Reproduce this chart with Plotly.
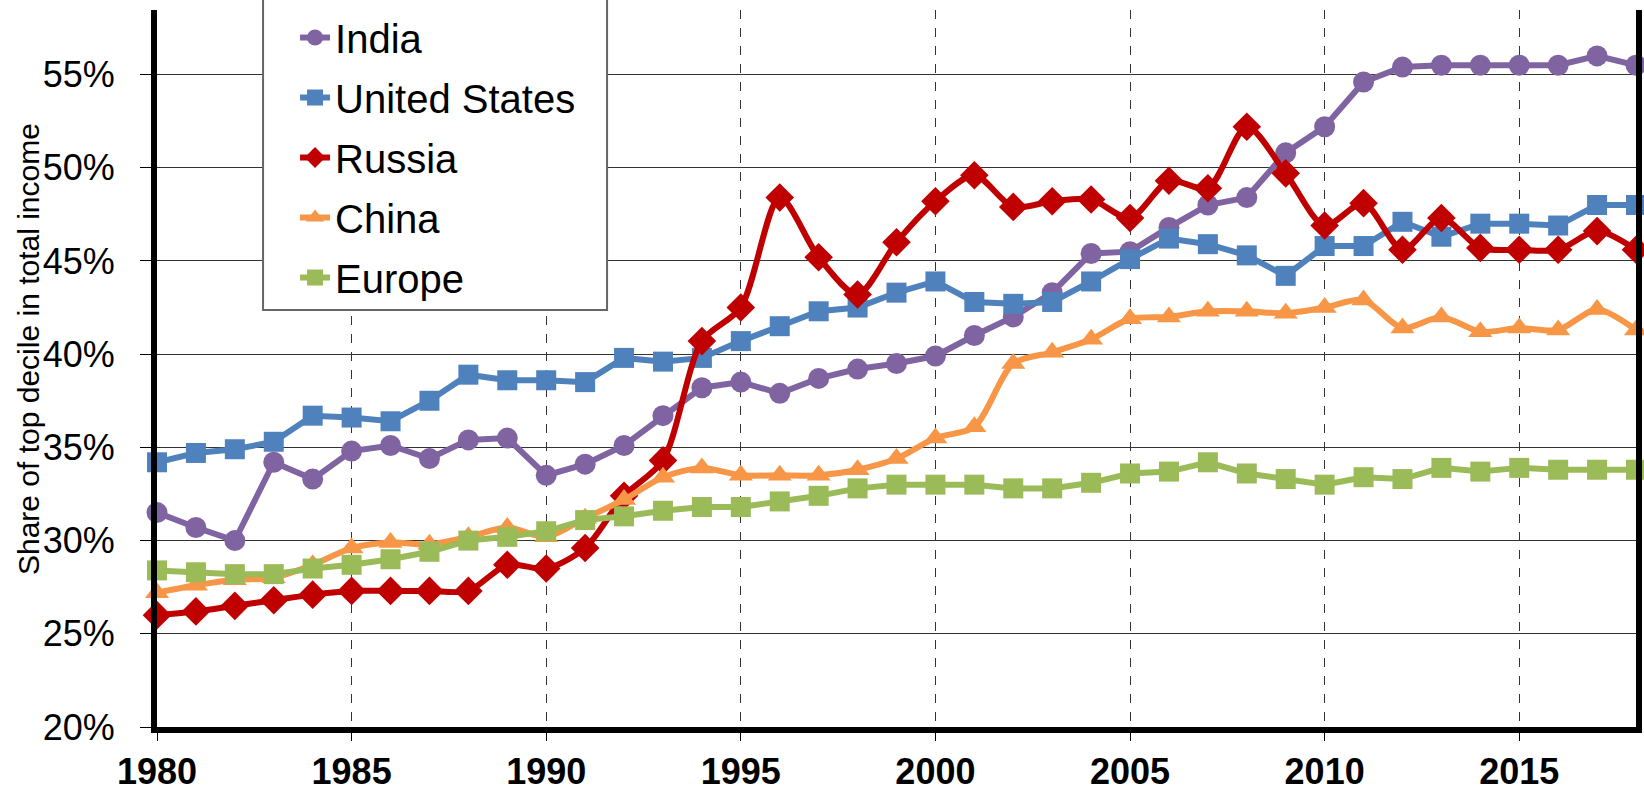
import plotly.graph_objects as go

years = list(range(1980, 2019))

india = [31.5, 30.7, 30.0, 34.2, 33.3, 34.8, 35.1, 34.4, 35.4, 35.5,
         33.5, 34.1, 35.1, 36.7, 38.2, 38.5, 37.9, 38.7, 39.2, 39.5,
         39.9, 41.0, 42.0, 43.3, 45.4, 45.5, 46.8, 48.0, 48.4, 50.8,
         52.2, 54.6, 55.4, 55.5, 55.5, 55.5, 55.5, 56.0, 55.5]
usa = [34.2, 34.7, 34.9, 35.3, 36.7, 36.6, 36.4, 37.5, 38.9, 38.6,
       38.6, 38.5, 39.8, 39.6, 39.8, 40.7, 41.5, 42.3, 42.5, 43.3,
       43.9, 42.8, 42.7, 42.8, 43.9, 45.1, 46.2, 45.9, 45.3, 44.2,
       45.8, 45.8, 47.1, 46.3, 47.0, 47.0, 46.9, 48.0, 48.0]
russia = [26.0, 26.2, 26.5, 26.8, 27.1, 27.3, 27.3, 27.3, 27.3, 28.7,
          28.5, 29.6, 32.4, 34.3, 40.7, 42.5, 48.4, 45.2, 43.2, 46.0,
          48.2, 49.6, 47.9, 48.2, 48.3, 47.3, 49.3, 48.9, 52.2, 49.7,
          46.9, 48.1, 45.6, 47.3, 45.7, 45.6, 45.6, 46.6, 45.6]
china = [27.2, 27.6, 27.9, 28.0, 28.7, 29.6, 29.9, 29.8, 30.2, 30.7,
         30.2, 31.2, 32.2, 33.4, 33.9, 33.5, 33.5, 33.5, 33.8, 34.4,
         35.5, 36.1, 39.5, 40.1, 40.8, 41.9, 42.0, 42.3, 42.3, 42.2,
         42.5, 42.9, 41.4, 42.0, 41.2, 41.4, 41.3, 42.4, 41.3]
europe = [28.4, 28.3, 28.2, 28.2, 28.5, 28.7, 29.0, 29.4, 30.0, 30.2,
          30.5, 31.1, 31.3, 31.6, 31.8, 31.8, 32.1, 32.4, 32.8, 33.0,
          33.0, 33.0, 32.8, 32.8, 33.1, 33.6, 33.7, 34.2, 33.6, 33.3,
          33.0, 33.4, 33.3, 33.9, 33.7, 33.9, 33.8, 33.8, 33.8]

x_ticks = [1980, 1985, 1990, 1995, 2000, 2005, 2010, 2015]
y_ticks = [20, 25, 30, 35, 40, 45, 50, 55]
y_labels = ["20%", "25%", "30%", "35%", "40%", "45%", "50%", "55%"]

series = [
    ("India", india, "#8064A2", "circle", "linear", 21),
    ("United States", usa, "#4F81BD", "square", "linear", 20),
    ("Russia", russia, "#C00000", "diamond", "spline", 22),
    ("China", china, "#F79646", "triangle-up", "spline", 21),
    ("Europe", europe, "#9BBB59", "square", "linear", 20),
]

font_family = "Arial, Liberation Sans, sans-serif"

fig = go.Figure()
for name, vals, color, symbol, shape, size in series:
    fig.add_trace(go.Scatter(
        x=years, y=vals, name=name, mode="lines+markers",
        legendgroup=name,
        line=dict(color=color, width=6, shape=shape, smoothing=0.8),
        marker=dict(color=color, symbol=symbol, size=size),
        cliponaxis=False,
    ))

# top margin is 0 and the y domain leaves the gap, so the legend can
# sit at the very top without pushing the margins
fig.update_layout(
    width=1644, height=794,
    margin=dict(l=157, r=8, t=0, b=67),
    plot_bgcolor="white", paper_bgcolor="white",
    font=dict(family=font_family, color="black"),
    legend=dict(
        x=0.0717, y=0.9931, xanchor="left", yanchor="top",
        bgcolor="rgba(0,0,0,0)", borderwidth=0,
        font=dict(size=40, family=font_family, color="black"),
        tracegroupgap=5, indentation=32,
        traceorder="grouped",
    ),
    annotations=[dict(
        text="Share of top decile in total income",
        xref="paper", yref="paper", x=-0.0865, y=0.52,
        xanchor="center", yanchor="middle", textangle=-90,
        showarrow=False, font=dict(size=30, color="black"),
    )],
    # legend frame (wider than plotly's own legend box)
    shapes=[dict(
        type="rect", xref="paper", yref="paper",
        x0=0.0717, x1=0.3043, y0=0.5736, y1=1.005,
        fillcolor="white", line=dict(color="#666666", width=2),
        layer="above",
    )],
)

fig.update_xaxes(
    range=[1980, 2018], tickvals=x_ticks,
    tickfont=dict(size=36, weight="bold"),
    showline=True, linecolor="black", linewidth=6,
    ticks="outside", ticklen=8, tickcolor="black", tickwidth=1,
    ticklabelstandoff=0, automargin=False,
    showgrid=True, gridcolor="#333333", gridwidth=1, griddash="dash",
    zeroline=False,
)
fig.update_yaxes(
    range=[20, 58.46], domain=[0, 0.9862],
    tickvals=y_ticks, ticktext=y_labels,
    tickfont=dict(size=36),
    showline=True, linecolor="black", linewidth=6, mirror=True,
    ticks="outside", ticklen=11, tickcolor="black", tickwidth=1,
    ticklabelstandoff=18, automargin=False,
    showgrid=True, gridcolor="#333333", gridwidth=1,
    zeroline=False,
)

# drop the page's default body margin so the figure sits at the window corner
fig.write_html("out.html", config={"displayModeBar": False},
               post_script="document.body.style.margin = '0';")
